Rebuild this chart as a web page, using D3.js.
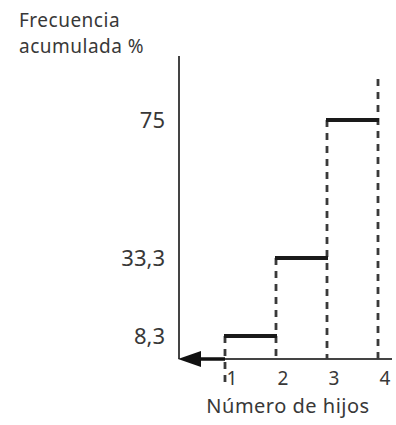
<!DOCTYPE html>
<html>
<head>
<meta charset="utf-8">
<script src="https://cdn.jsdelivr.net/npm/d3@7"></script>
<style>
  html, body { margin: 0; padding: 0; background: #fff; }
  text { font-family: "Noto Sans", sans-serif; fill: #383838; }
</style>
</head>
<body>
<div id="chart"></div>
<script>
// datos
const hijos = [1, 2, 3, 4];
const acumulada = [8.3, 33.3, 75];
const yTicks = [8.3, 33.3, 75];
const yTickLabels = ["8,3", "33,3", "75"];
const xTickLabels = ["1", "2", "3", "4"];
const yTitle = ["Frecuencia", "acumulada %"];
const xTitle = "Número de hijos";

const width = 396, height = 425;
const svg = d3.select("#chart").append("svg")
  .attr("width", width).attr("height", height);

const x = d3.scaleLinear().domain([1, 4]).range([225, 378]);
// escala por tramos: el dibujo original no es del todo proporcional
const y = d3.scaleLinear().domain([0, 8.3, 33.3, 75]).range([359, 336, 258, 120]);
const x0 = 179, yTop = 56;

const axisCol = "#444";

// eje y
svg.append("line")
  .attr("x1", x0).attr("x2", x0)
  .attr("y1", yTop).attr("y2", y(0))
  .attr("stroke", axisCol).attr("stroke-width", 2);

// eje x
svg.append("line")
  .attr("x1", 200).attr("x2", 392)
  .attr("y1", y(0)).attr("y2", y(0))
  .attr("stroke", axisCol).attr("stroke-width", 2);
svg.append("line")
  .attr("x1", 198).attr("x2", x(1))
  .attr("y1", y(0)).attr("y2", y(0))
  .attr("stroke", "#111").attr("stroke-width", 3.5);
svg.append("path")
  .attr("d", `M${x0 - 1},${y(0)} L201,${y(0) - 8} L201,${y(0) + 8} Z`)
  .attr("fill", "#111");

// líneas discontinuas verticales
const dash = "7,6";
const vlines = [
  {h: hijos[0], top: acumulada[0], bottom: y(0) + 24},
  {h: hijos[1], top: acumulada[1], bottom: y(0)},
  {h: hijos[2], top: acumulada[2], bottom: y(0)},
  {h: hijos[3], top: y.invert(79), bottom: y(0)}
];
svg.append("g").selectAll("line")
  .data(vlines)
  .join("line")
    .attr("x1", d => x(d.h)).attr("x2", d => x(d.h))
    .attr("y1", d => y(d.top)).attr("y2", d => d.bottom)
    .attr("stroke", "#3a3a3a").attr("stroke-width", 2.8)
    .attr("stroke-dasharray", dash);

// escalones
svg.append("g").selectAll("line")
  .data(acumulada)
  .join("line")
    .attr("x1", (d, i) => x(hijos[i]) - 1)
    .attr("x2", (d, i) => x(hijos[i + 1]) + 1)
    .attr("y1", d => y(d)).attr("y2", d => y(d))
    .attr("stroke", "#1a1a1a").attr("stroke-width", 4);

// etiquetas eje y
svg.append("g").selectAll("text")
  .data(yTicks)
  .join("text")
    .attr("x", 165)
    .attr("y", d => y(d))
    .attr("dy", "0.38em")
    .attr("text-anchor", "end")
    .attr("font-size", "22px")
    .text((d, i) => yTickLabels[i]);

// etiquetas eje x
svg.append("g").selectAll("text")
  .data(hijos)
  .join("text")
    .attr("x", d => x(d) + 7)
    .attr("y", 385)
    .attr("text-anchor", "middle")
    .attr("font-size", "19px")
    .text((d, i) => xTickLabels[i]);

// títulos
svg.append("text")
  .attr("x", 19).attr("y", 27)
  .attr("font-size", "19px")
  .attr("letter-spacing", "0.5px")
  .selectAll("tspan")
  .data(yTitle)
  .join("tspan")
    .attr("x", 19)
    .attr("dy", (d, i) => i ? 26 : 0)
    .text(d => d);

svg.append("text")
  .attr("x", 288).attr("y", 413)
  .attr("text-anchor", "middle")
  .attr("font-size", "20px")
  .attr("letter-spacing", "0.5px")
  .text(xTitle);
</script>
</body>
</html>
